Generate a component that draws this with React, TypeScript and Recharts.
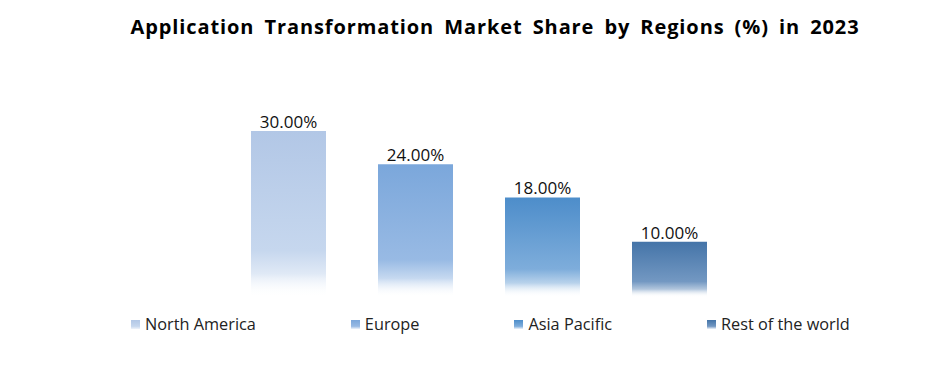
import { Bar, BarChart, LabelList, Legend, XAxis, YAxis } from "recharts";

const categories = ["2023"];
const regions = ["North America", "Europe", "Asia Pacific", "Rest of the world"];
const shares = [30, 24, 18, 10];

// top / mid colours per region, bars fade to white at the base
const topColors = ["#b2c7e6", "#7ba7db", "#4d8dca", "#4474a8"];
const midColors = ["#c6d7ee", "#98bae4", "#7eaddb", "#7398c2"];

const data = categories.map((c) => {
  const row: Record<string, string | number> = { name: c };
  regions.forEach((r, i) => {
    row[r] = shares[i];
  });
  return row;
});

function LegendRow() {
  return (
    <div
      style={{
        display: "flex",
        fontFamily: "'Open Sans', sans-serif",
        fontSize: 16.3,
        color: "#222",
        paddingLeft: 131,
        whiteSpace: "nowrap",
        width: 934,
        boxSizing: "border-box",
      }}
    >
      {regions.map((r, i) => (
        <div
          key={r}
          style={{
            display: "flex",
            alignItems: "center",
            marginRight: 95,
            flexShrink: 0,
          }}
        >
          <span
            style={{
              width: 9,
              height: 9,
              marginRight: 5,
              display: "inline-block",
              background: `linear-gradient(${topColors[i]}, ${midColors[i]} 70%, #eef3fa)`,
            }}
          />
          <span>{r}</span>
        </div>
      ))}
    </div>
  );
}

export default function App() {
  return (
    <div
      style={{
        position: "absolute",
        left: 0,
        top: 0,
        width: 934,
        height: 371,
        background: "#fff",
      }}
    >
      <div
        style={{
          position: "absolute",
          top: 13,
          left: 0,
          width: 990,
          textAlign: "center",
          fontFamily: "'Open Sans', sans-serif",
          fontWeight: 700,
          fontSize: 20,
          letterSpacing: 0.9,
          wordSpacing: 4,
          color: "#000",
        }}
      >
        Application Transformation Market Share by Regions (%) in 2023
      </div>
      <BarChart
        width={934}
        height={371}
        data={data}
        margin={{ top: 131, right: 177, bottom: 74, left: 200 }}
        barSize={75}
        barGap={52}
      >
        <defs>
          {regions.map((r, i) => (
            <linearGradient key={r} id={`grad${i}`} x1="0" y1="0" x2="0" y2="1">
              <stop offset="0%" stopColor={topColors[i]} />
              <stop offset="72%" stopColor={midColors[i]} />
              <stop offset="86%" stopColor={midColors[i]} stopOpacity={0.55} />
              <stop offset="100%" stopColor="#ffffff" stopOpacity={0} />
            </linearGradient>
          ))}
        </defs>
        <XAxis dataKey="name" hide />
        <YAxis domain={[0, 30]} hide />
        {regions.map((r, i) => (
          <Bar
            key={r}
            dataKey={r}
            fill={`url(#grad${i})`}
            isAnimationActive={false}
          >
            <LabelList
              dataKey={r}
              position="top"
              offset={3}
              fill="#111"
              fontSize={17}
              fontFamily="'Open Sans', sans-serif"
              formatter={(v: number) => `${v.toFixed(2)}%`}
            />
          </Bar>
        ))}
        <Legend
          layout="horizontal"
          verticalAlign="middle"
          align="center"
          wrapperStyle={{ top: 313, left: 0, width: 934 }}
          content={() => <LegendRow />}
        />
      </BarChart>
    </div>
  );
}
